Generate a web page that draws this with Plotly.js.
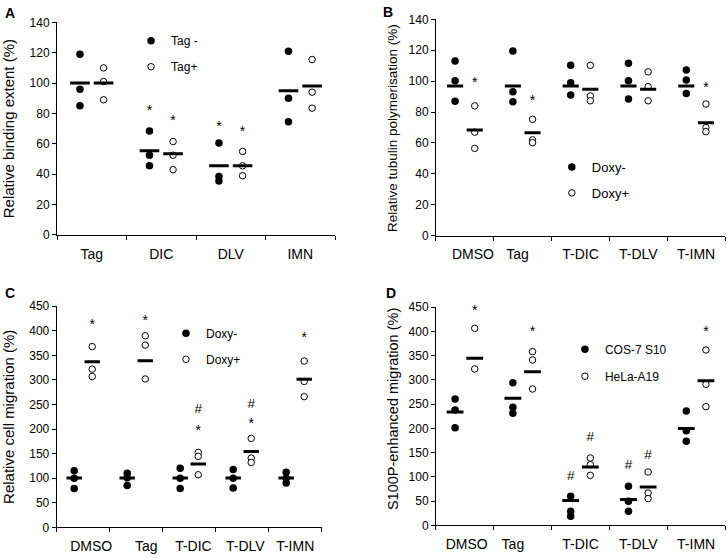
<!DOCTYPE html>
<html><head><meta charset="utf-8">
<script src="https://cdn.plot.ly/plotly-3.0.1.min.js"></script>
<style>html,body{margin:0;padding:0;background:#fff}#chart{width:728px;height:558px}</style>
</head><body><div id="chart"></div>
<script>
// ---------- Panel A ----------
const catsA = ['Tag', 'DIC', 'DLV', 'IMN'];
const tagMinusA = [[119, 96, 85], [68.5, 52.5, 45.5], [60.5, 38.5, 35.5], [121, 90, 74.5]];
const tagPlusA = [[110, 101, 89], [61.5, 52.5, 43], [55, 45.5, 39], [115.5, 94, 83.5]];
const tagMinusMeanA = [100, 55.5, 45.5, 95];
const tagPlusMeanA = [100, 53.5, 45.5, 98];
const starMinusA = [null, 81, 70.5, null];
const starPlusA = [null, 74.5, 67.5, null];

// ---------- Panel B ----------
const catsB = ['DMSO', 'Tag', 'T-DIC', 'T-DLV', 'T-IMN'];
const doxyMinusB = [[113, 100.3, 87], [119.5, 93.2, 86.7], [110.2, 99, 91], [111.5, 100.3, 88.4], [107.2, 100.7, 92]];
const doxyPlusB = [[84, 67, 56.5], [75.3, 62, 60.2], [110.2, 90.4, 87.3], [106, 96.4, 87.3], [85.2, 70, 67.3]];
const doxyMinusMeanB = [96.8, 96.8, 96.8, 96.8, 96.8];
const doxyPlusMeanB = [68.4, 66.6, 94.7, 94.7, 73.1];
const starPlusB = [98.6, 86.7, null, null, 95];

// ---------- Panel C ----------
const catsC = ['DMSO', 'Tag', 'T-DIC', 'T-DLV', 'T-IMN'];
const doxyMinusC = [[115, 100, 79], [110, 101, 85], [120.5, 100, 79], [117.5, 100, 80], [112, 100, 90]];
const doxyPlusC = [[368, 322, 307], [390, 371, 302], [152.5, 144.5, 107], [181, 141, 132], [338.5, 297, 266]];
const doxyMinusMeanC = [100.5, 100.5, 100.5, 100.5, 100.5];
const doxyPlusMeanC = [337, 339, 129, 154.5, 301.5];
const starPlusC = [410.5, 419.5, 195.5, 209, 383.5];
const hashPlusC = [null, null, 239.5, 249.5, null];

// ---------- Panel D ----------
const catsD = ['DMSO', 'Tag', 'T-DIC', 'T-DLV', 'T-IMN'];
const cosD = [[260.7, 238, 201.5], [294.4, 243.6, 231.2], [59.8, 28.9, 18.6], [80.5, 49.5, 28.9], [236, 195.3, 173.4]];
const helaD = [[406.7, 322.7], [358.4, 341.2, 281.4], [138.9, 125.1, 103.2], [110, 66.7, 55], [361.9, 291, 244.9]];
const cosMeanD = [234, 262, 51, 53, 200];
const helaMeanD = [344.7, 317, 120.4, 79, 298.5];
const hashCosD = [null, null, 99.7, 124, null];
const starHelaD = [441.8, 397.6, null, null, 397.6];
const hashHelaD = [null, null, 180, 143.7, null];

// ---------- helpers ----------
const OFF = 0.17;
const FONT = 'Arial, "Liberation Sans", Helvetica, sans-serif';

function dots(groups, off, xa, ya, name, filled, legend, grp) {
  const x = [], y = [];
  groups.forEach((g, i) => g.forEach(v => { x.push(i + off); y.push(v); }));
  return {
    type: 'scatter', mode: 'markers', x, y, xaxis: xa, yaxis: ya, name,
    legend, legendgroup: grp, showlegend: true, hoverinfo: 'skip',
    marker: filled
      ? {symbol: 'circle', size: 7.5, color: '#000', line: {width: 0}}
      : {symbol: 'circle', size: 6.5, color: '#fff', line: {width: 1, color: '#000'}}
  };
}
function means(vals, off, xa, ya, len) {
  return {
    type: 'scatter', mode: 'markers', x: vals.map((v, i) => i + off), y: vals,
    xaxis: xa, yaxis: ya, showlegend: false, hoverinfo: 'skip',
    marker: {symbol: 'line-ew', size: len, color: '#000', line: {width: 3, color: '#000'}}
  };
}
function marks(vals, off, xa, ya, ch, fs) {
  const x = [], y = [], t = [];
  vals.forEach((v, i) => { if (v !== null) { x.push(i + off); y.push(v); t.push(ch); } });
  return {
    type: 'scatter', mode: 'text', x, y, text: t, xaxis: xa, yaxis: ya,
    showlegend: false, hoverinfo: 'skip', cliponaxis: false,
    textposition: 'middle center', textfont: {family: FONT, size: fs, color: '#000'}
  };
}

const traces = [
  // A
  dots(tagMinusA, -OFF, 'x', 'y', 'Tag -', true, 'legend', 'a1'),
  dots(tagPlusA, OFF, 'x', 'y', 'Tag+', false, 'legend', 'a2'),
  means(tagMinusMeanA, -OFF, 'x', 'y', 14),
  means(tagPlusMeanA, OFF, 'x', 'y', 14),
  marks(starMinusA, -OFF, 'x', 'y', '*', 14),
  marks(starPlusA, OFF, 'x', 'y', '*', 14),
  // B
  dots(doxyMinusB, -OFF, 'x2', 'y2', 'Doxy-', true, 'legend2', 'b1'),
  dots(doxyPlusB, OFF, 'x2', 'y2', 'Doxy+', false, 'legend2', 'b2'),
  means(doxyMinusMeanB, -OFF, 'x2', 'y2', 11.5),
  means(doxyPlusMeanB, OFF, 'x2', 'y2', 11.5),
  marks(starPlusB, OFF, 'x2', 'y2', '*', 14),
  // C
  dots(doxyMinusC, -OFF, 'x3', 'y3', 'Doxy-', true, 'legend3', 'c1'),
  dots(doxyPlusC, OFF, 'x3', 'y3', 'Doxy+', false, 'legend3', 'c2'),
  means(doxyMinusMeanC, -OFF, 'x3', 'y3', 11),
  means(doxyPlusMeanC, OFF, 'x3', 'y3', 11),
  marks(starPlusC, OFF, 'x3', 'y3', '*', 14),
  marks(hashPlusC, OFF, 'x3', 'y3', '#', 13.5),
  // D
  dots(cosD, -OFF, 'x4', 'y4', 'COS-7 S10', true, 'legend4', 'd1'),
  dots(helaD, OFF, 'x4', 'y4', 'HeLa-A19', false, 'legend4', 'd2'),
  means(cosMeanD, -OFF, 'x4', 'y4', 12),
  means(helaMeanD, OFF, 'x4', 'y4', 12),
  marks(hashCosD, -OFF, 'x4', 'y4', '#', 13.5),
  marks(starHelaD, OFF, 'x4', 'y4', '*', 14),
  marks(hashHelaD, OFF, 'x4', 'y4', '#', 13.5)
];

function xax(domain, anchor, cats, shifts) {
  return {
    domain, anchor, range: [-0.5, cats.length - 0.5], fixedrange: true,
    tickmode: 'array', tickvals: cats.map((c, i) => i + shifts[i]), ticktext: cats,
    ticks: '', showline: true, linecolor: '#000', linewidth: 1,
    showgrid: false, zeroline: false, ticklabelstandoff: 6,
    tickfont: {family: FONT, size: 14, color: '#000'},
    minor: {ticks: 'outside', ticklen: 4, tickcolor: '#000', tickwidth: 1,
            tickmode: 'linear', tick0: -0.5, dtick: 1, showgrid: false}
  };
}
function yax(domain, anchor, top, dtick, title, tfs, so) {
  const ax = {
    domain, anchor, range: [0, top], dtick, tick0: 0, fixedrange: true,
    ticks: 'outside', ticklen: 4, tickcolor: '#000', showline: true, linecolor: '#000',
    linewidth: 1, showgrid: false, zeroline: false,
    tickfont: {family: FONT, size: 12, color: '#000'}
  };
  if (title) ax.title = {text: title, standoff: so, font: {family: FONT, size: tfs, color: '#000'}};
  return ax;
}
function leg(x, y, fs, gap) {
  return {x, y, xanchor: 'left', yanchor: 'top', bgcolor: 'rgba(0,0,0,0)', borderwidth: 0,
          font: {family: FONT, size: fs, color: '#000'}, tracegroupgap: gap, traceorder: 'grouped'};
}
function letter(t, x, y) {
  return {text: '<b>' + t + '</b>', xref: 'paper', yref: 'paper', x, y, xanchor: 'left', yanchor: 'middle',
          showarrow: false, font: {family: FONT, size: 14, color: '#000'}};
}
function ytitle(t, x, y, fs) {
  return {text: t, xref: 'paper', yref: 'paper', x, y, xanchor: 'center', yanchor: 'middle',
          textangle: -90, showarrow: false, font: {family: FONT, size: fs, color: '#000'}};
}

const layout = {
  width: 728, height: 558, margin: {l: 0, r: 0, t: 0, b: 0},
  paper_bgcolor: '#fff', plot_bgcolor: '#fff', font: {family: FONT, color: '#000'},
  showlegend: true,
  xaxis: xax([0.0783, 0.4602], 'y', catsA, [0, 0, 0, 0]),
  yaxis: yax([0.5789, 0.9600], 'x', 140, 20, 'Relative binding extent (%)', 15, 12),
  xaxis2: xax([0.5989, 0.9959], 'y2', catsB, [0.14, -0.09, 0, 0, 0]),
  yaxis2: yax([0.5776, 0.9654], 'x2', 140, 20, null),
  xaxis3: xax([0.0779, 0.4419], 'y3', catsC, [0.15, 0.19, 0.08, 0.06, 0]),
  yaxis3: yax([0.0550, 0.4511], 'x3', 450, 50, 'Relative cell migration (%)', 15, 11),
  xaxis4: xax([0.5989, 0.9959], 'y4', catsD, [0.03, -0.17, 0, 0, 0]),
  yaxis4: yax([0.0586, 0.4493], 'x4', 450, 50, null),
  legend: leg(0.180, 0.953, 12, 7),
  legend2: leg(0.758, 0.7275, 13, 6),
  legend3: leg(0.228, 0.4287, 12, 7),
  legend4: leg(0.776, 0.4002, 12, 8),
  annotations: [
    letter('A', 0.004, 0.977),
    letter('B', 0.524, 0.979),
    letter('C', 0.004, 0.475),
    letter('D', 0.528, 0.475),
    ytitle('Relative tubulin polymerisation (%)', 0.5385, 0.7706, 13.5),
    ytitle('S100P-enhanced migration (%)', 0.539, 0.2676, 14.5)
  ]
};

Plotly.newPlot('chart', traces, layout, {staticPlot: true, displayModeBar: false});
</script>
</body></html>
